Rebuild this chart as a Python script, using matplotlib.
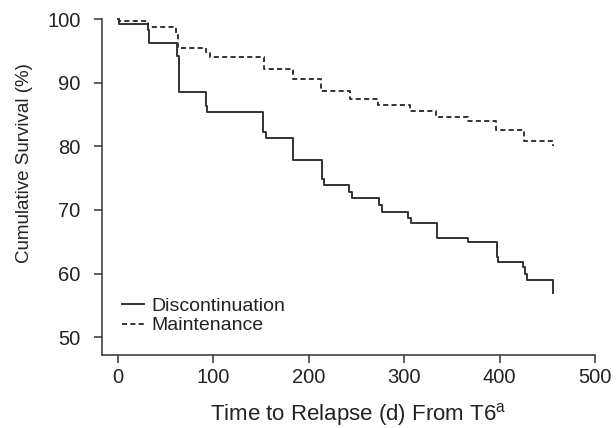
import matplotlib
matplotlib.use("Agg")
import matplotlib.pyplot as plt

plt.rcParams['font.family'] = ['Liberation Sans', 'DejaVu Sans']

# Kaplan-Meier steps (days, % surviving)
disc_days = [0, 1, 31, 32.5, 61.5, 64, 92.2, 93.6, 152.3, 154.8, 183.8, 213.8, 216,
             242.5, 245, 273.9, 276.4, 304.3, 306.8, 334, 367.2, 397, 398.6, 424.9,
             426.5, 428.4, 456.3]
disc_surv = [100, 99.2, 98.2, 96.2, 94.2, 88.6, 86.3, 85.4, 82.3, 81.3, 77.9, 74.8, 73.9,
             72.8, 71.9, 70.8, 69.7, 68.7, 67.9, 65.6, 64.9, 62.6, 61.8, 61.0,
             60.0, 59.0, 57.0]

maint_days = [0, 1, 31, 60.8, 63.2, 92.2, 96.4, 153, 183.1, 212.6, 243, 272.9, 306,
              333.3, 367.2, 396, 425.8, 456.3]
maint_surv = [100, 99.7, 98.7, 97.6, 95.5, 94.8, 94.0, 92.1, 90.6, 88.7, 87.5, 86.5, 85.6,
              84.6, 84.0, 82.6, 80.9, 80.0]

x_ticks = [0, 100, 200, 300, 400, 500]
y_ticks = [50, 60, 70, 80, 90, 100]

ink = '#333333'

fig = plt.figure(figsize=(6.16, 4.28), dpi=100)
ax = fig.add_axes([0.1656, 0.1706, 0.8003, 0.785])

ax.step(disc_days, disc_surv, where='post', color=ink, lw=1.4,
        label='Discontinuation', clip_on=False)
ax.step(maint_days, maint_surv, where='post', color=ink, lw=1.4,
        linestyle=(0, (2.6, 1.7)), label='Maintenance', clip_on=False)

ax.set_xlim(-16.8, 500)
ax.set_ylim(47.2, 100)
ax.set_xticks(x_ticks)
ax.set_yticks(y_ticks)

for side in ['top', 'right']:
    ax.spines[side].set_visible(False)
for side in ['left', 'bottom']:
    ax.spines[side].set_color(ink)
    ax.spines[side].set_linewidth(1.1)

ax.tick_params(axis='both', direction='out', length=6, width=1.1, color=ink,
               labelsize=14.5, labelcolor='#222222')
ax.tick_params(axis='x', pad=3.5)
ax.tick_params(axis='y', pad=9.5)

ax.set_ylabel('Cumulative Survival (%)', fontsize=13.5, color='#222222')
ax.yaxis.set_label_coords(-0.14, 0.571)
ax.set_xlabel('Time to Relapse (d) From T6$^{\\mathregular{a}}$', fontsize=16, color='#222222')
ax.xaxis.label.set_va('baseline')
ax.xaxis.set_label_coords(0.519, -0.194)

ax.legend(loc='upper left', bbox_to_anchor=(0.04, 0.172), frameon=False,
          fontsize=14, handlelength=1.15, handletextpad=0.4, labelspacing=0.1,
          borderpad=0, borderaxespad=0, labelcolor='#222222')

fig.savefig('out.png', dpi=100)
